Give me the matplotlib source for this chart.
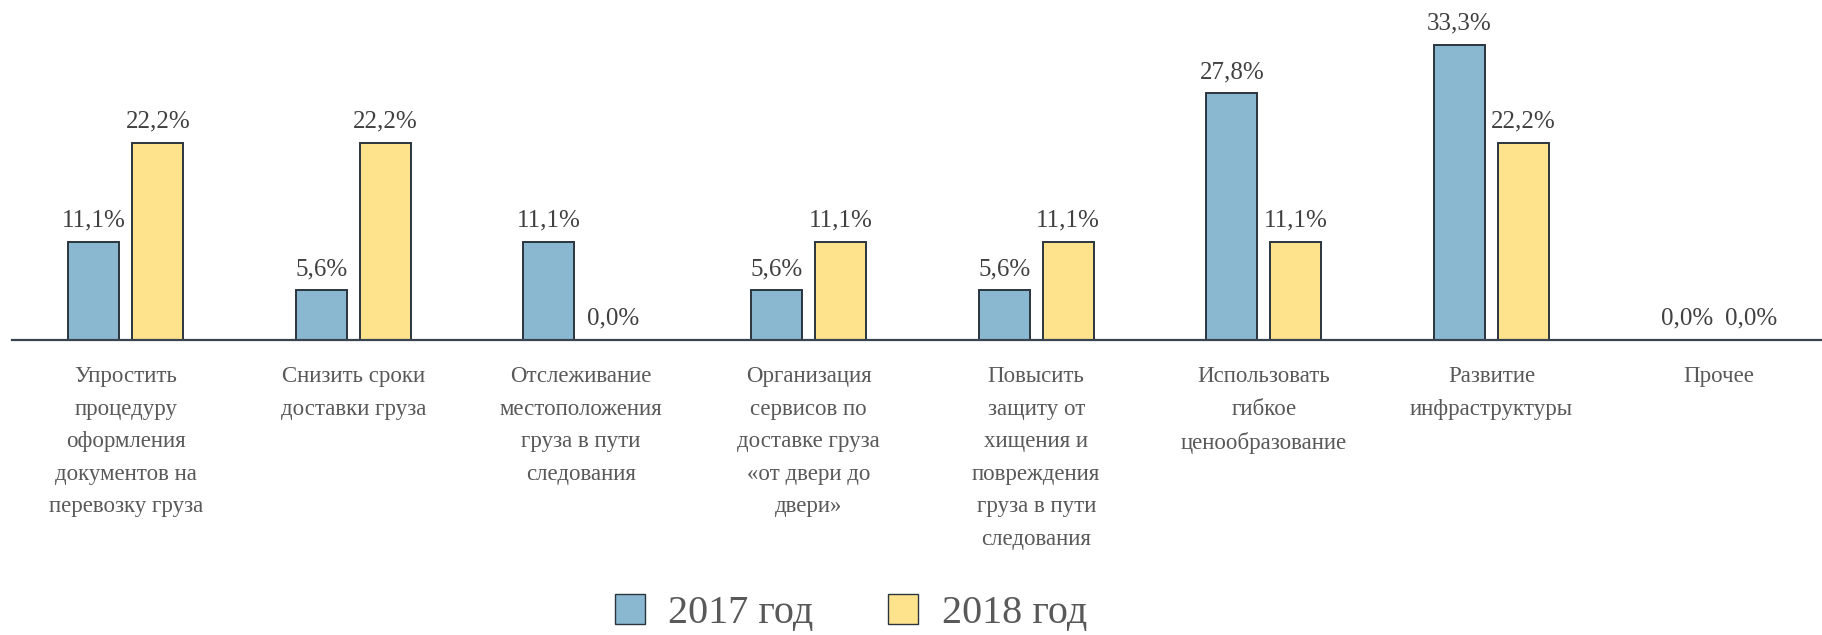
import numpy as np
import matplotlib.pyplot as plt
from matplotlib.patches import Patch

# --- Data ---
categories = [
    "Упростить\nпроцедуру\nоформления\nдокументов на\nперевозку груза",
    "Снизить сроки\nдоставки груза",
    "Отслеживание\nместоположения\nгруза в пути\nследования",
    "Организация\nсервисов по\nдоставке груза\n«от двери до\nдвери»",
    "Повысить\nзащиту от\nхищения и\nповреждения\nгруза в пути\nследования",
    "Использовать\nгибкое\nценообразование",
    "Развитие\nинфраструктуры",
    "Прочее",
]
values_2017 = [11.1, 5.6, 11.1, 5.6, 5.6, 27.8, 33.3, 0.0]
values_2018 = [22.2, 22.2, 0.0, 11.1, 11.1, 11.1, 22.2, 0.0]
series_names = ["2017 год", "2018 год"]

# --- Style ---
font = "Liberation Serif"
blue = "#8AB8D0"
yellow = "#FFE38C"
edge = "#2B3540"
value_color = "#404040"
label_color = "#595959"

W, H = 1822, 635
fig = plt.figure(figsize=(W / 100, H / 100), dpi=100)

# axis line at y=340 px from top, 8.87 px per percent, 227.6 px per category
axis_y = 340
px_per_pct = 8.87
cat_w = 227.6
ax = fig.add_axes([12 / W, (H - axis_y) / H, 8 * cat_w / W, axis_y / H])
ax.set_ylim(0, axis_y / px_per_pct)
ax.set_xlim(-0.5, len(categories) - 0.5)

x = np.arange(len(categories))
bw = 51 / cat_w
off = 32 / cat_w

b1 = ax.bar(x - off, values_2017, bw, color=blue, edgecolor=edge, linewidth=1.4, zorder=2)
b2 = ax.bar(x + off, values_2018, bw, color=yellow, edgecolor=edge, linewidth=1.4, zorder=2)

for bars, vals in ((b1, values_2017), (b2, values_2018)):
    for rect, v in zip(bars, vals):
        ax.annotate(f"{v:.1f}%".replace(".", ","),
                    (rect.get_x() + rect.get_width() / 2, v),
                    xytext=(0, 11), textcoords="offset points",
                    ha="center", va="baseline", fontsize=18,
                    color=value_color, family=font)

# category labels under the axis
for xi, name in zip(x, categories):
    ax.annotate(name, (xi, 0), xytext=(0, -19), textcoords="offset points",
                ha="center", va="top", multialignment="center",
                fontsize=16.5, color=label_color, family=font,
                linespacing=1.72, annotation_clip=False)

for s in ["top", "right", "left"]:
    ax.spines[s].set_visible(False)
ax.spines["bottom"].set_color("#3A4450")
ax.spines["bottom"].set_linewidth(1.6)
ax.set_yticks([])
ax.set_xticks([])

handles = [Patch(facecolor=blue, edgecolor=edge, linewidth=1.0),
           Patch(facecolor=yellow, edgecolor=edge, linewidth=1.0)]
fig.legend(handles, series_names, loc="center", ncol=2,
           bbox_to_anchor=(851 / W, (H - 613) / H), frameon=False,
           prop={"family": font, "size": 29}, labelcolor=label_color,
           handlelength=0.75, handleheight=0.75, columnspacing=1.85,
           handletextpad=0.58, borderpad=0)

fig.savefig("out.png", dpi=100)
